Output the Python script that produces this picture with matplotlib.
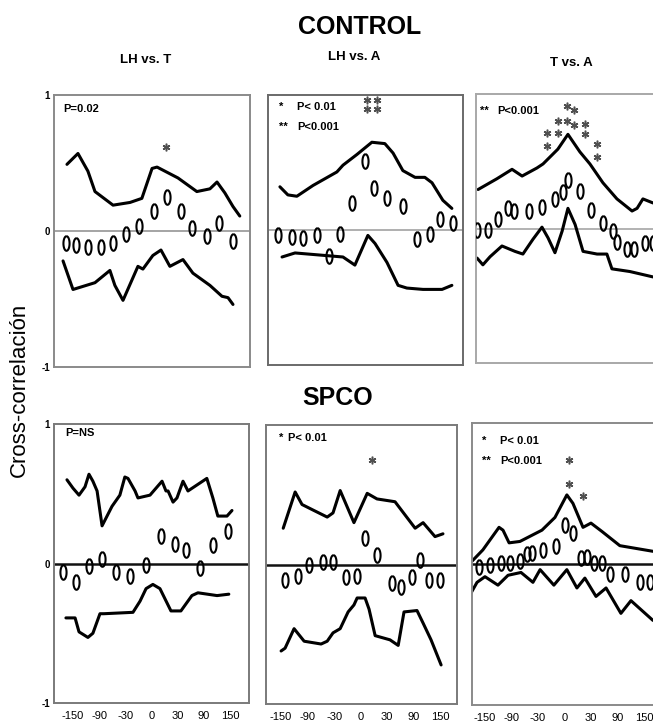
import numpy as np
import matplotlib.pyplot as plt

plt.rcParams['font.family'] = ['Liberation Sans', 'DejaVu Sans']

lag_labels = ['-150', '-90', '-30', '0', '30', '90', '150']

# CONTROL, LH vs. T
p1_ov_x = [-0.27, 0.11, 0.57, 1.07, 1.53, 2.02, 2.52, 3.09, 3.59, 4.12, 4.54, 5.11, 5.57, 6.11]
p1_ov_y = [-0.09, -0.10, -0.12, -0.12, -0.09, -0.02, 0.04, 0.15, 0.25, 0.15, 0.02, -0.04, 0.06, -0.07]
p1_up_x = [-0.23, 0.19, 0.57, 0.84, 1.53, 2.18, 2.63, 3.02, 3.21, 4.01, 4.73, 5.23, 5.50, 5.80, 6.11, 6.37]
p1_up_y = [0.49, 0.57, 0.44, 0.29, 0.19, 0.21, 0.24, 0.46, 0.47, 0.39, 0.29, 0.31, 0.36, 0.28, 0.18, 0.11]
p1_lo_x = [-0.38, 0.0, 0.84, 1.41, 1.60, 1.91, 2.48, 2.67, 3.05, 3.36, 3.70, 4.20, 4.58, 5.23, 5.69, 5.92, 6.11]
p1_lo_y = [-0.22, -0.43, -0.38, -0.29, -0.40, -0.51, -0.26, -0.28, -0.18, -0.14, -0.26, -0.21, -0.31, -0.40, -0.48, -0.49, -0.54]
p1_st_x = [3.55]
p1_st_y = [0.62]

# CONTROL, LH vs. A
p2_ov_x = [-0.11, 0.42, 0.83, 1.36, 1.81, 2.23, 2.68, 3.17, 3.51, 4.0, 4.6, 5.13, 5.62, 6.0, 6.49]
p2_ov_y = [-0.04, -0.05, -0.06, -0.04, -0.19, -0.03, 0.20, 0.51, 0.31, 0.24, 0.18, -0.07, -0.03, 0.08, 0.05]
p2_up_x = [-0.04, 0.26, 0.60, 1.21, 2.11, 2.34, 2.87, 3.43, 3.92, 4.23, 4.60, 5.06, 5.43, 5.70, 6.11, 6.45]
p2_up_y = [0.32, 0.26, 0.25, 0.33, 0.43, 0.48, 0.56, 0.65, 0.64, 0.57, 0.44, 0.39, 0.39, 0.35, 0.22, 0.16]
p2_lo_x = [0.04, 0.53, 1.74, 2.34, 2.79, 3.28, 3.55, 4.0, 4.42, 4.75, 5.36, 6.08, 6.45]
p2_lo_y = [-0.20, -0.17, -0.19, -0.20, -0.26, -0.04, -0.10, -0.24, -0.41, -0.43, -0.44, -0.44, -0.41]
p2_st_x = [3.25, 3.62, 3.25, 3.62]
p2_st_y = [0.96, 0.96, 0.90, 0.90]

# CONTROL, T vs. A
p3_ov_x = [-0.30, 0.11, 0.49, 0.87, 1.09, 1.66, 2.15, 2.64, 2.94, 3.13, 3.58, 4.0, 4.45, 4.83, 4.98, 5.36, 5.62, 6.04, 6.34]
p3_ov_y = [-0.01, -0.01, 0.07, 0.15, 0.13, 0.13, 0.16, 0.22, 0.27, 0.36, 0.28, 0.14, 0.04, -0.02, -0.10, -0.15, -0.15, -0.11, -0.11]
p3_up_x = [-0.26, 0.45, 1.02, 1.40, 1.96, 2.19, 2.75, 3.13, 3.58, 3.96, 4.45, 4.98, 5.55, 5.74, 5.96, 6.34]
p3_up_y = [0.29, 0.37, 0.44, 0.39, 0.45, 0.48, 0.59, 0.70, 0.57, 0.48, 0.34, 0.22, 0.13, 0.15, 0.22, 0.19]
p3_lo_x = [-0.30, -0.08, 0.19, 0.64, 1.13, 1.43, 1.81, 2.15, 2.38, 2.64, 2.91, 3.13, 3.40, 3.70, 4.23, 4.60, 4.79, 5.47, 6.34]
p3_lo_y = [-0.22, -0.27, -0.21, -0.13, -0.17, -0.19, -0.08, 0.01, -0.07, -0.18, -0.02, 0.15, 0.03, -0.17, -0.19, -0.19, -0.30, -0.32, -0.36]
p3_st_x = [3.09, 3.36, 2.75, 3.09, 3.36, 3.77, 2.34, 2.75, 3.77, 2.34, 4.23, 4.23]
p3_st_y = [0.91, 0.88, 0.80, 0.80, 0.77, 0.78, 0.71, 0.71, 0.70, 0.61, 0.63, 0.53]

# SPCO, LH vs. T
p4_ov_x = [-0.38, 0.11, 0.61, 1.11, 1.64, 2.18, 2.79, 3.36, 3.89, 4.31, 4.85, 5.34, 5.92]
p4_ov_y = [-0.06, -0.13, -0.02, 0.03, -0.06, -0.09, -0.01, 0.20, 0.14, 0.10, -0.03, 0.13, 0.23]
p4_up_x = [-0.23, 0.0, 0.23, 0.46, 0.61, 0.76, 0.92, 1.11, 1.49, 1.79, 1.98, 2.10, 2.37, 2.48, 2.94, 3.40,
           3.55, 3.63, 3.82, 3.97, 4.20, 4.39, 5.11, 5.34, 5.53, 5.88, 6.07]
p4_up_y = [0.60, 0.54, 0.49, 0.55, 0.64, 0.59, 0.52, 0.27, 0.41, 0.49, 0.62, 0.61, 0.52, 0.47, 0.49, 0.59,
           0.52, 0.52, 0.44, 0.47, 0.59, 0.52, 0.61, 0.47, 0.34, 0.34, 0.38]
p4_lo_x = [-0.27, 0.08, 0.23, 0.57, 0.76, 1.03, 1.18, 2.29, 2.56, 2.79, 3.05, 3.32, 3.74, 4.12, 4.54, 4.77, 5.50, 5.95]
p4_lo_y = [-0.39, -0.39, -0.49, -0.53, -0.50, -0.36, -0.36, -0.35, -0.27, -0.18, -0.15, -0.18, -0.34, -0.34, -0.23, -0.21, -0.23, -0.22]
p4_st_x = []
p4_st_y = []

# SPCO, LH vs. A
p5_ov_x = [0.15, 0.64, 1.06, 1.58, 1.96, 2.45, 2.87, 3.17, 3.62, 4.19, 4.53, 4.94, 5.25, 5.58, 6.0]
p5_ov_y = [-0.11, -0.08, 0.0, 0.02, 0.02, -0.09, -0.08, 0.19, 0.07, -0.13, -0.16, -0.09, 0.03, -0.11, -0.11]
p5_up_x = [0.08, 0.53, 0.79, 1.21, 1.74, 1.96, 2.23, 2.75, 3.25, 3.62, 4.30, 5.06, 5.36, 5.81, 6.11]
p5_up_y = [0.26, 0.52, 0.43, 0.39, 0.34, 0.37, 0.53, 0.30, 0.51, 0.47, 0.45, 0.26, 0.30, 0.20, 0.22]
p5_lo_x = [0.0, 0.15, 0.49, 0.87, 1.51, 1.74, 1.96, 2.23, 2.53, 2.75, 2.87, 3.17, 3.32, 3.55, 4.11, 4.42,
           4.64, 5.13, 5.36, 5.66, 6.04]
p5_lo_y = [-0.62, -0.60, -0.46, -0.55, -0.57, -0.55, -0.49, -0.46, -0.34, -0.29, -0.24, -0.24, -0.32, -0.51,
           -0.54, -0.58, -0.34, -0.33, -0.42, -0.54, -0.72]
p5_st_x = [3.43]
p5_st_y = [0.75]

# SPCO, T vs. A
p6_ov_x = [-0.23, 0.19, 0.60, 0.94, 1.32, 1.58, 1.77, 2.19, 2.68, 3.02, 3.32, 3.62, 3.85, 4.11, 4.42, 4.72, 5.28, 5.85, 6.23]
p6_ov_y = [-0.02, -0.01, 0.01, 0.01, 0.02, 0.07, 0.08, 0.10, 0.13, 0.28, 0.22, 0.04, 0.05, 0.01, 0.01, -0.07, -0.07, -0.13, -0.13]
p6_up_x = [-0.49, -0.08, 0.53, 0.68, 0.91, 1.32, 2.15, 2.64, 3.09, 3.32, 3.70, 4.0, 4.42, 5.09, 6.34]
p6_up_y = [0.02, 0.10, 0.26, 0.24, 0.15, 0.16, 0.24, 0.33, 0.49, 0.43, 0.26, 0.29, 0.23, 0.13, 0.09]
p6_lo_x = [-0.57, -0.30, 0.0, 0.49, 0.87, 1.36, 1.81, 2.08, 2.60, 3.09, 3.47, 3.77, 4.19, 4.57, 5.13, 5.51, 6.34]
p6_lo_y = [-0.22, -0.13, -0.09, -0.15, -0.08, -0.06, -0.13, -0.04, -0.15, -0.04, -0.17, -0.10, -0.23, -0.17, -0.35, -0.26, -0.40]
p6_st_x = [3.17, 3.17, 3.70]
p6_st_y = [0.74, 0.57, 0.48]

W, H = 653, 723
fig = plt.figure(figsize=(W / 100, H / 100), dpi=100)

# panel boxes in pixels: left, right, top, bottom
boxes = [(54, 250, 95, 367), (268, 463, 95, 365), (476, 671, 94, 363),
         (54, 249, 424, 703), (266, 457, 425, 704), (472, 667, 423, 705)]
xlims = [(-0.725, 6.76), (-0.49, 6.87), (-0.34, 7.02),
         (-0.725, 6.72), (-0.57, 6.64), (-0.49, 6.87)]
spine_cols = ['#8a8a8a', '#6a6a6a', '#a8a8a8', '#7a7a7a', '#7a7a7a', '#8a8a8a']
zero_cols = ['#8c8c8c', '#9a9a9a', '#a5a5a5', '#111111', '#111111', '#111111']
zero_lw = [1.1, 1.1, 1.2, 1.8, 1.8, 1.8]

panels = [
    (p1_ov_x, p1_ov_y, p1_up_x, p1_up_y, p1_lo_x, p1_lo_y, p1_st_x, p1_st_y),
    (p2_ov_x, p2_ov_y, p2_up_x, p2_up_y, p2_lo_x, p2_lo_y, p2_st_x, p2_st_y),
    (p3_ov_x, p3_ov_y, p3_up_x, p3_up_y, p3_lo_x, p3_lo_y, p3_st_x, p3_st_y),
    (p4_ov_x, p4_ov_y, p4_up_x, p4_up_y, p4_lo_x, p4_lo_y, p4_st_x, p4_st_y),
    (p5_ov_x, p5_ov_y, p5_up_x, p5_up_y, p5_lo_x, p5_lo_y, p5_st_x, p5_st_y),
    (p6_ov_x, p6_ov_y, p6_up_x, p6_up_y, p6_lo_x, p6_lo_y, p6_st_x, p6_st_y),
]

# tall open ellipse, like the "0" marks of the original
t = np.linspace(0, 2 * np.pi, 41)
oval = np.column_stack([0.42 * np.sin(t), np.cos(t)])

axes = []
for i, (b, d) in enumerate(zip(boxes, panels)):
    l, r, tp, bt = b
    ax = fig.add_axes([l / W, 1 - bt / H, (r - l) / W, (bt - tp) / H])
    ox, oy, ux, uy, lx, ly, sx, sy = d
    ax.axhline(0, color=zero_cols[i], lw=zero_lw[i], zorder=1)
    ax.plot(ux, uy, color='black', lw=2.2, solid_joinstyle='round', solid_capstyle='round', zorder=2)
    ax.plot(lx, ly, color='black', lw=2.2, solid_joinstyle='round', solid_capstyle='round', zorder=2)
    ax.plot(ox, oy, ls='none', marker=oval, ms=10.5, mfc='none', mec='black', mew=1.5, zorder=3)
    if sx:
        ax.plot(sx, sy, ls='none', marker=(6, 2, 0), ms=5.5, mec='#505050', mew=1.1, zorder=3)
    ax.set_xlim(*xlims[i])
    ax.set_ylim(-1, 1)
    for s in ax.spines.values():
        s.set_color(spine_cols[i])
        s.set_linewidth(1.4)
    ax.tick_params(length=0)
    if i >= 3:
        ax.set_xticks(range(len(lag_labels)))
        ax.set_xticklabels(lag_labels, fontsize=8)
        ax.tick_params(axis='x', pad=6)
    else:
        ax.set_xticks([])
    if i in (0, 3):
        ax.set_yticks([1, 0, -1])
        ax.set_yticklabels(['1', '0', '-1'], fontsize=7, fontweight='bold')
        ax.tick_params(axis='y', pad=3)
    else:
        ax.set_yticks([])
    axes.append(ax)

# significance notes inside panels
kw = dict(fontsize=8, fontweight='bold', va='center', ha='left')
axes[0].text(0.046, 0.949, 'P=0.02', transform=axes[0].transAxes, **kw)
axes[1].text(0.056, 0.956, '*', transform=axes[1].transAxes, **kw)
axes[1].text(0.149, 0.956, 'P< 0.01', transform=axes[1].transAxes, **kw)
axes[1].text(0.056, 0.881, '**', transform=axes[1].transAxes, **kw)
axes[1].text(0.149, 0.881, 'P<0.001', transform=axes[1].transAxes, **kw)
axes[2].text(0.02, 0.937, '**', transform=axes[2].transAxes, **kw)
axes[2].text(0.108, 0.937, 'P<0.001', transform=axes[2].transAxes, **kw)
axes[3].text(0.056, 0.968, 'P=NS', transform=axes[3].transAxes, **kw)
axes[4].text(0.068, 0.953, '*', transform=axes[4].transAxes, **kw)
axes[4].text(0.115, 0.953, 'P< 0.01', transform=axes[4].transAxes, **kw)
axes[5].text(0.051, 0.936, '*', transform=axes[5].transAxes, **kw)
axes[5].text(0.144, 0.936, 'P< 0.01', transform=axes[5].transAxes, **kw)
axes[5].text(0.051, 0.865, '**', transform=axes[5].transAxes, **kw)
axes[5].text(0.144, 0.865, 'P<0.001', transform=axes[5].transAxes, **kw)

# titles
fig.text(360 / W, 1 - 27 / H, 'CONTROL', fontsize=18, fontweight='bold', ha='center', va='center')
fig.text(338 / W, 1 - 398 / H, 'SPCO', fontsize=18, fontweight='bold', ha='center', va='center')
fig.text(146 / W, 1 - 60 / H, 'LH vs. T', fontsize=9.5, fontweight='bold', ha='center', va='center')
fig.text(354 / W, 1 - 57 / H, 'LH vs. A', fontsize=9.5, fontweight='bold', ha='center', va='center')
fig.text(571 / W, 1 - 63 / H, 'T vs. A', fontsize=9.5, fontweight='bold', ha='center', va='center')
fig.text(19 / W, 1 - 390 / H, 'Cross-correlación', fontsize=16, rotation=90, ha='center', va='center')

fig.savefig('out.png', dpi=100)
